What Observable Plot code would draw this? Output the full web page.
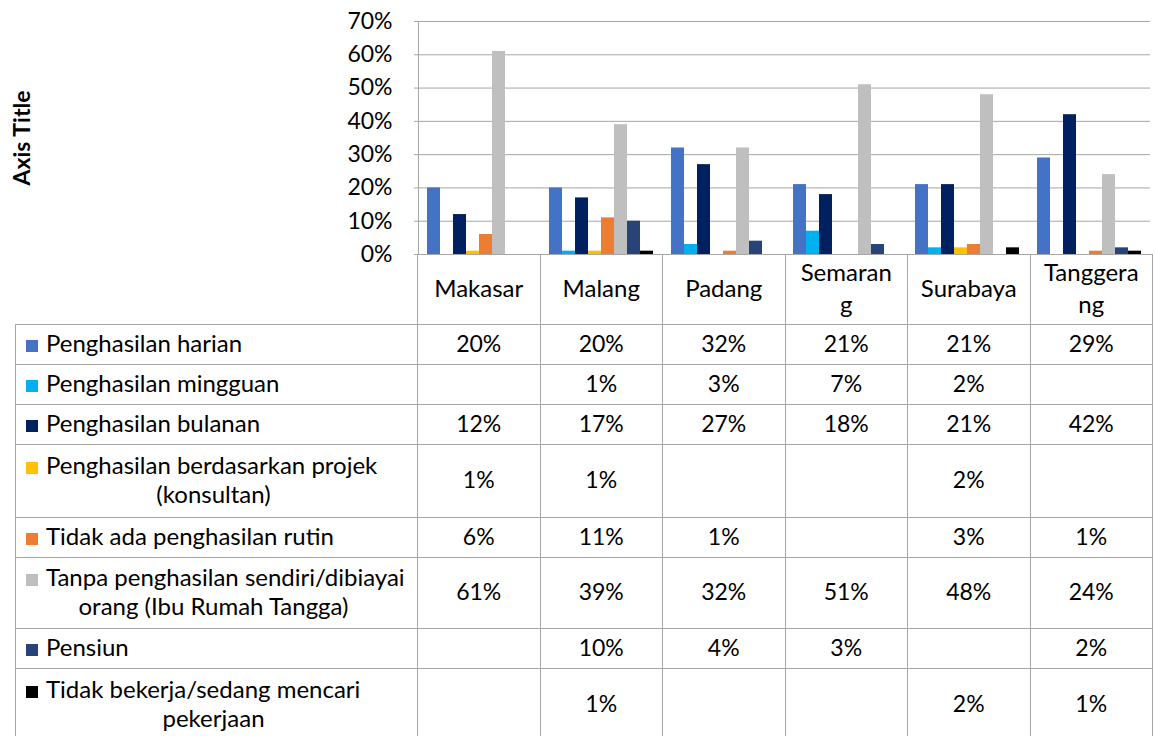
<!DOCTYPE html>
<html><head><meta charset="utf-8">
<script src="https://cdn.jsdelivr.net/npm/d3@7"></script>
<script src="https://cdn.jsdelivr.net/npm/@observablehq/plot@0.6"></script>
<style>
html,body{margin:0;padding:0;background:#fff;overflow:hidden;}
body{width:1155px;height:736px;position:relative;font-family:Lato,"Open Sans",sans-serif;color:#000;}
#chart{position:absolute;left:0;top:0;}
#tbl{position:absolute;left:15px;top:254px;border-collapse:collapse;table-layout:fixed;width:1137px;font-size:23px;}
#tbl td{border:1px solid #a6a6a6;padding:0 0 4px 0;text-align:center;vertical-align:middle;line-height:30px;}
#tbl td.blank{border-top:none;border-left:none;}
#tbl td.head{font-size:24px;line-height:32px;padding-bottom:3px;}
#tbl td.lab{text-align:left;padding-left:10px;font-size:24px;line-height:29px;}
#tbl .l2{text-align:center;padding-right:16px;}
#tbl .sw{display:inline-block;width:12px;height:12px;margin-right:8px;vertical-align:0px;}
</style>
</head><body>
<div id="chart"></div>
<table id="tbl"></table>
<script>
const cities = ["Makasar", "Malang", "Padang", "Semarang", "Surabaya", "Tanggerang"];
const cityHeader = [["Makasar"], ["Malang"], ["Padang"], ["Semaran", "g"], ["Surabaya"], ["Tanggera", "ng"]];
const series = ["Penghasilan harian", "Penghasilan mingguan", "Penghasilan bulanan",
  "Penghasilan berdasarkan projek (konsultan)", "Tidak ada penghasilan rutin",
  "Tanpa penghasilan sendiri/dibiayai orang (Ibu Rumah Tangga)", "Pensiun",
  "Tidak bekerja/sedang mencari pekerjaan"];
const seriesLines = [["Penghasilan harian"], ["Penghasilan mingguan"], ["Penghasilan bulanan"],
  ["Penghasilan berdasarkan projek", "(konsultan)"], ["Tidak ada penghasilan rutin"],
  ["Tanpa penghasilan sendiri/dibiayai", "orang (Ibu Rumah Tangga)"], ["Pensiun"],
  ["Tidak bekerja/sedang mencari", "pekerjaan"]];
const colors = ["#4472C4", "#00B0F0", "#002060", "#FFC000", "#ED7D31", "#BFBFBF", "#264478", "#000000"];

const harian       = [0.20, 0.20, 0.32, 0.21, 0.21, 0.29];
const mingguan     = [null, 0.01, 0.03, 0.07, 0.02, null];
const bulanan      = [0.12, 0.17, 0.27, 0.18, 0.21, 0.42];
const projek       = [0.01, 0.01, null, null, 0.02, null];
const tidakAda     = [0.06, 0.11, 0.01, null, 0.03, 0.01];
const tanpa        = [0.61, 0.39, 0.32, 0.51, 0.48, 0.24];
const pensiun      = [null, 0.10, 0.04, 0.03, null, 0.02];
const tidakBekerja = [null, 0.01, null, null, 0.02, 0.01];
const yTicks = [0, 0.1, 0.2, 0.3, 0.4, 0.5, 0.6, 0.7];

const values = [harian, mingguan, bulanan, projek, tidakAda, tanpa, pensiun, tidakBekerja];
const rows = [];
cities.forEach((c, i) => series.forEach((s, j) => {
  const v = values[j][i];
  if (v != null) rows.push({city: c, series: s, value: v});
}));

const fmt = d3.format(".0%");
const grey = "#a6a6a6";

const chart = Plot.plot({
  width: 1155, height: 258,
  marginLeft: 417, marginRight: 4, marginTop: 21, marginBottom: 4,
  style: {fontFamily: "Lato, 'Open Sans', sans-serif", color: "#000", background: "transparent", overflow: "visible"},
  fx: {domain: cities, padding: 0, axis: null},
  x: {domain: series, axis: null, paddingInner: 0, paddingOuter: 0.6},
  y: {domain: [0, 0.7]},
  color: {domain: series, range: colors},
  marks: [
    Plot.gridY(yTicks, {stroke: grey, strokeOpacity: 1}),
    Plot.barY(rows, {fx: "city", x: "series", y: "value", fill: "series"}),
    Plot.frame({anchor: "left", stroke: grey, facetAnchor: "left"}),
    Plot.axisY(yTicks, {tickFormat: fmt, tickSize: 4, tickPadding: 22, stroke: grey, fill: "#000", fontSize: 23, label: null}),
    Plot.text(["Axis Title"], {frameAnchor: "left", textAnchor: "middle", rotate: -90, dx: -396, fontWeight: "bold", fontSize: 23, fill: "#000", facetAnchor: "left"})
  ]
});
document.getElementById("chart").appendChild(chart);

// data table
const rowHeights = [40, 40, 40, 73, 40, 71, 40, 72];
let html = "<colgroup><col style='width:402px'>" + cities.map(() => "<col style='width:122.5px'>").join("") + "</colgroup>";
html += "<tr style='height:70px'><td class='blank'></td>" + cityHeader.map(l => "<td class='head'>" + l.join("<br>") + "</td>").join("") + "</tr>";
series.forEach((s, j) => {
  const lines = seriesLines[j];
  let lab = "<div><span class='sw' style='background:" + colors[j] + "'></span>" + lines[0] + "</div>";
  if (lines[1]) lab += "<div class='l2'>" + lines[1] + "</div>";
  html += "<tr style='height:" + rowHeights[j] + "px'><td class='lab'>" + lab + "</td>" +
    cities.map((c, i) => "<td>" + (values[j][i] == null ? "" : fmt(values[j][i])) + "</td>").join("") + "</tr>";
});
document.getElementById("tbl").innerHTML = html;
</script>
</body></html>
